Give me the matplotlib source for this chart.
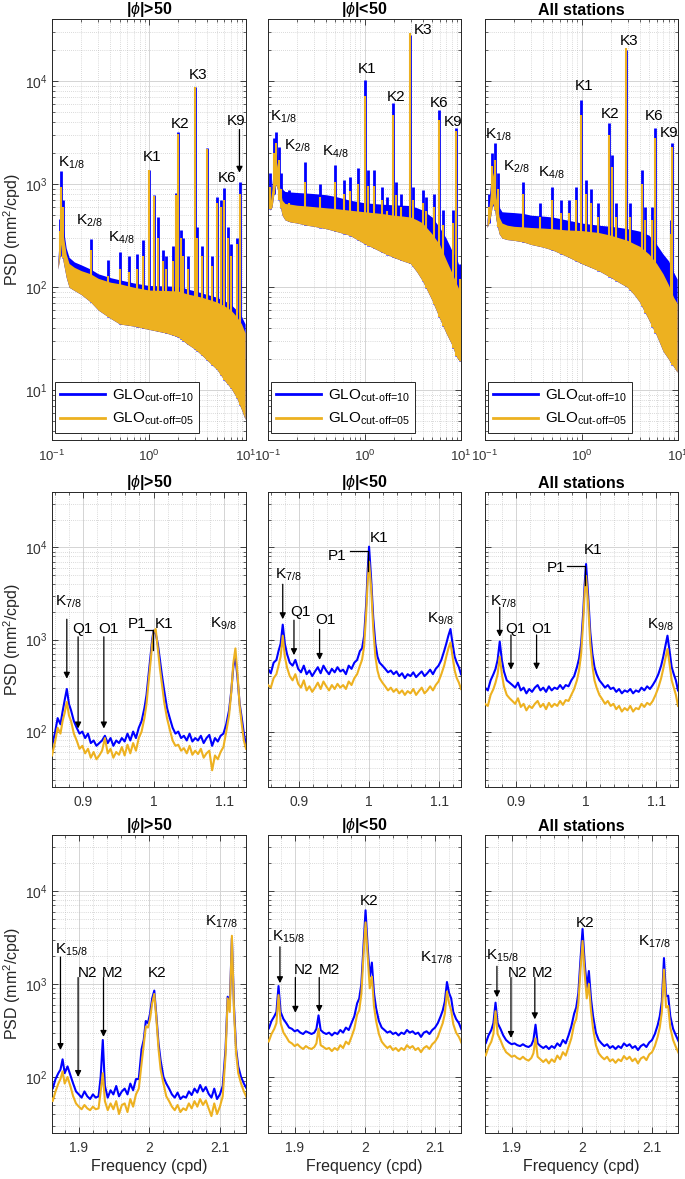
import numpy as np
import matplotlib.pyplot as plt
from matplotlib.ticker import LogLocator, NullFormatter, MultipleLocator, FixedLocator, FixedFormatter
from matplotlib.lines import Line2D

plt.rcParams['font.family'] = ['Liberation Sans', 'DejaVu Sans']
plt.rcParams['mathtext.fontset'] = 'custom'
plt.rcParams['mathtext.rm'] = 'Liberation Sans'
plt.rcParams['mathtext.it'] = 'Liberation Sans:italic'
plt.rcParams['mathtext.bf'] = 'Liberation Sans:bold'
plt.rcParams['mathtext.default'] = 'regular'

BLUE = '#0000ff'
ORANGE = '#edb120'
nan = np.nan

titles = [r'|$\mathit{\phi}$|>50', r'|$\mathit{\phi}$|<50', 'All stations']
labels = [r'GLO$_{\text{cut-off=10}}$', r'GLO$_{\text{cut-off=05}}$']

# ---------------- top row: full spectrum (band envelopes + tidal spikes)
top_f = [0.105, 0.11, 0.115, 0.12, 0.125, 0.13, 0.14, 0.15, 0.17, 0.2, 0.25, 0.3, 0.4, 0.5,
         0.7, 1.0, 1.5, 2.0, 2.5, 3.0, 3.5, 4.0, 5.0, 6.0, 7.0, 8.0, 9.0, 9.8]

tl_hi_o = [nan, nan, 170, 300, 520, 330, 210, 170, 156, 145, 135, 122, 112, 108,
           100, 94, 93, 92, 86, 83, 80, 77, 72, 66, 60, 52, 44, 36]
tl_lo_o = [nan, nan, 150, 190, 260, 180, 125, 100, 93, 85, 72, 60, 50, 44,
           42, 39, 36, 33, 28, 25, 22, 19.5, 16, 12.5, 10.5, 8.5, 6.5, 5.2]
tl_hi_b = [nan, nan, 185, 340, 600, 390, 240, 195, 176, 165, 150, 135, 124, 118,
           110, 104, 103, 102, 96, 92, 88, 85, 80, 74, 68, 60, 52, 44]

tc_hi_o = [640, 900, 1300, 1800, 1500, 1000, 700, 650, 640, 625, 615, 605, 590, 580,
           560, 540, 520, 500, 490, 480, 450, 420, 330, 260, 185, 140, 108, 90]
tc_lo_o = [560, 600, 800, 1000, 900, 700, 500, 450, 430, 420, 400, 390, 370, 350,
           320, 265, 220, 195, 180, 170, 140, 115, 75, 50, 36, 28, 21, 19]
tc_hi_b = [700, 1000, 1600, 2200, 1900, 1300, 900, 850, 840, 830, 820, 810, 790, 760,
           700, 660, 640, 630, 625, 620, 590, 560, 480, 380, 300, 230, 190, 150]

tr_hi_o = [420, 600, 900, 1300, 1100, 750, 480, 420, 400, 390, 385, 380, 375, 370,
           360, 355, 340, 320, 300, 285, 265, 250, 210, 170, 135, 105, 80, 70]
tr_lo_o = [380, 420, 500, 650, 600, 450, 330, 300, 290, 285, 275, 260, 245, 230,
           200, 170, 145, 125, 110, 100, 85, 72, 48, 34, 24, 20, 17, 15]
tr_hi_b = [450, 700, 1100, 1600, 1400, 900, 600, 540, 535, 530, 520, 500, 490, 480,
           450, 420, 400, 390, 380, 370, 360, 350, 320, 260, 210, 180, 140, 120]

tl_sf = [0.121, 0.125, 0.129, 0.25, 0.376, 0.5, 0.627, 0.75, 0.877, 1.003, 1.128, 1.25, 1.38, 1.5,
         1.75, 1.88, 2.005, 2.13, 2.26, 2.5, 3.0, 3.13, 3.5, 4.0, 4.5, 5.0, 5.5, 6.0, 6.5, 7.0, 8.0, 8.6]
tl_sb = [460, 1330, 700, 296, 182, 219, 200, 210, 290, 1380, 780, 480, 230, 200,
         250, 820, 3200, 360, 300, 200, 8800, 380, 250, 2250, 200, 750, 700, 910, 380, 260, 300, 1060]
tl_so = [350, 940, 600, 230, 130, 150, 140, 150, 200, 1370, 760, 300, 180, 150,
         180, 780, 3100, 300, 200, 150, 8700, 300, 200, 2200, 160, 650, 600, 700, 300, 200, 260, 800]

tc_sf = [0.106, 0.115, 0.121, 0.13, 0.135, 0.165, 0.243, 0.347, 0.49, 0.61, 0.71, 0.86, 1.0, 1.1, 1.24,
         1.52, 1.72, 1.97, 2.1, 2.37, 2.95, 3.15, 4.0, 4.35, 5.2, 5.9, 6.5, 8.3, 8.87, 9.7]
tc_sb = [1270, 2800, 3200, 2300, 1270, 870, 1650, 1000, 1530, 1100, 1180, 1450, 10300, 1370, 1370,
         940, 750, 6100, 1050, 810, 28000, 940, 870, 750, 800, 5250, 560, 560, 3500, 170]
tc_so = [940, 1990, 2500, 1700, 900, 650, 1050, 750, 1050, 800, 850, 1000, 7100, 950, 950,
         700, 550, 4700, 780, 600, 29500, 700, 650, 550, 600, 4200, 400, 420, 3300, 120]

tr_sf = [0.11, 0.119, 0.126, 0.135, 0.25, 0.37, 0.49, 0.61, 0.74, 0.87, 0.99, 1.11, 1.24, 1.5,
         1.95, 2.07, 2.3, 2.9, 3.2, 4.2, 4.6, 5.4, 5.8, 8.4, 8.7]
tr_sb = [810, 2000, 2490, 1270, 1050, 650, 940, 700, 700, 940, 6600, 1090, 900, 650,
         3900, 1900, 650, 20000, 650, 1370, 600, 600, 3500, 450, 2500]
tr_so = [600, 1500, 1700, 900, 810, 480, 700, 520, 520, 700, 4700, 800, 650, 480,
         3000, 1480, 480, 20700, 480, 1000, 450, 450, 2800, 330, 2300]

# ---------------- middle row: diurnal band
mid_f = [0.856, 0.860, 0.864, 0.868, 0.871, 0.874, 0.877, 0.880, 0.883, 0.887,
         0.891, 0.895, 0.899, 0.903, 0.907, 0.911, 0.915, 0.919, 0.923, 0.927, 0.931, 0.935,
         0.939, 0.943, 0.947, 0.951, 0.955, 0.959, 0.963, 0.967, 0.971, 0.975, 0.979, 0.983, 0.987,
         0.990, 0.993, 0.996, 0.998, 1.000, 1.003, 1.006, 1.009, 1.012, 1.015,
         1.019, 1.023, 1.027, 1.031, 1.035, 1.039, 1.043, 1.047, 1.051, 1.055, 1.059, 1.063,
         1.067, 1.071, 1.075, 1.079, 1.083, 1.087, 1.091, 1.095, 1.099, 1.103, 1.107,
         1.110, 1.113, 1.116, 1.119, 1.122, 1.125, 1.128, 1.131]

ml_b = [70, 95, 140, 120, 165, 220, 290, 200, 170, 130,
        110, 95, 100, 85, 95, 75, 80, 70, 75, 80, 90, 75,
        85, 70, 80, 75, 85, 78, 95, 80, 100, 85, 110, 130, 180,
        250, 420, 700, 1000, 1250, 1150, 900, 600, 400, 280,
        180, 140, 110, 95, 100, 85, 90, 80, 95, 78, 85, 80,
        90, 75, 85, 92, 70, 85, 78, 90, 95, 120, 170,
        270, 500, 650, 380, 200, 140, 95, 72]
ml_o = [55, 75, 110, 95, 130, 160, 210, 150, 130, 95,
        80, 65, 70, 58, 65, 52, 60, 50, 55, 62, 85, 58,
        65, 52, 60, 56, 68, 55, 72, 58, 75, 62, 85, 100, 140,
        200, 350, 600, 900, 1200, 1300, 800, 480, 320, 210,
        140, 105, 80, 70, 72, 62, 66, 58, 70, 56, 62, 57,
        65, 52, 58, 62, 38, 55, 50, 60, 68, 100, 150,
        260, 550, 800, 420, 190, 120, 80, 65]

mc_b = [480, 430, 560, 600, 750, 900, 1450, 900, 700, 560,
        520, 600, 480, 440, 520, 420, 460, 400, 450, 500, 430, 520,
        460, 420, 480, 440, 500, 450, 470, 420, 520, 480, 560, 600, 750,
        800, 1100, 2500, 5500, 10200, 4500, 1700, 900, 650, 560,
        520, 480, 440, 460, 420, 450, 400, 430, 380, 420, 400, 440,
        390, 420, 450, 400, 430, 470, 420, 480, 520, 600, 750,
        900, 1100, 1300, 900, 650, 560, 500, 420]
mc_o = [320, 300, 380, 420, 520, 650, 1100, 650, 500, 400,
        360, 420, 330, 300, 360, 280, 310, 270, 300, 340, 290, 350,
        310, 280, 320, 290, 330, 300, 320, 290, 350, 320, 380, 420, 520,
        600, 850, 2000, 4200, 7000, 3600, 1300, 650, 460, 380,
        340, 310, 280, 300, 270, 290, 260, 280, 250, 275, 260, 290,
        250, 275, 300, 260, 280, 310, 280, 320, 350, 420, 520,
        650, 800, 930, 650, 460, 380, 340, 290]

mr_b = [300, 280, 360, 420, 480, 600, 950, 600, 450, 360,
        340, 320, 300, 340, 280, 300, 260, 290, 270, 300, 320, 280,
        300, 270, 310, 280, 300, 290, 320, 290, 320, 310, 360, 400, 500,
        620, 900, 2000, 4000, 6600, 3000, 1200, 700, 500, 420,
        360, 330, 300, 320, 290, 300, 270, 290, 260, 280, 270, 290,
        260, 280, 270, 300, 280, 310, 290, 320, 360, 420, 520,
        650, 850, 1100, 750, 500, 420, 360, 280]
mr_o = [200, 190, 250, 290, 340, 420, 650, 420, 310, 250,
        230, 215, 200, 230, 185, 200, 170, 190, 180, 200, 215, 185,
        200, 175, 205, 185, 200, 190, 215, 195, 220, 215, 250, 290, 360,
        460, 700, 1600, 3200, 4900, 2400, 900, 520, 360, 300,
        250, 225, 200, 215, 190, 200, 175, 190, 165, 180, 170, 190,
        165, 180, 175, 200, 185, 205, 195, 215, 250, 300, 380,
        480, 620, 790, 540, 360, 300, 250, 190]

# ---------------- bottom row: semidiurnal band
bot_f = [1.855, 1.859, 1.863, 1.867, 1.871, 1.874, 1.877, 1.880,
         1.884, 1.888, 1.892, 1.896, 1.900, 1.904, 1.908, 1.912, 1.916, 1.920, 1.924, 1.928,
         1.931, 1.934, 1.937,
         1.941, 1.945, 1.949, 1.953, 1.957, 1.961, 1.965, 1.969, 1.973, 1.977, 1.981, 1.985, 1.989,
         1.992, 1.995, 1.998, 2.001, 2.004, 2.007, 2.010, 2.013, 2.016,
         2.020, 2.024, 2.028, 2.032, 2.036, 2.040, 2.044, 2.048, 2.052, 2.056, 2.060, 2.064,
         2.068, 2.072, 2.076, 2.080, 2.084, 2.088, 2.092, 2.096, 2.100, 2.104, 2.108,
         2.111, 2.114, 2.117, 2.120, 2.123, 2.126, 2.130, 2.134, 2.138, 2.142]

bl_b = [80, 85, 75, 95, 110, 120, 155, 110,
        130, 105, 85, 70, 65, 60, 70, 62, 58, 65, 60, 62,
        100, 250, 80,
        60, 72, 65, 80, 62, 70, 75, 65, 85, 72, 95, 95, 200,
        250, 400, 380, 480, 700, 850, 450, 230, 150,
        100, 85, 75, 65, 60, 68, 58, 62, 60, 70, 64, 75,
        68, 82, 70, 78, 66, 60, 75, 58, 65, 80, 200,
        730, 600, 3100, 570, 200, 130, 100, 85, 75, 70]
bl_o = [60, 65, 55, 70, 85, 95, 115, 85,
        100, 80, 62, 52, 48, 45, 50, 46, 44, 48, 45, 46,
        70, 110, 55,
        44, 52, 45, 55, 40, 50, 52, 42, 58, 48, 65, 75, 140,
        220, 350, 340, 420, 620, 780, 420, 200, 120,
        85, 62, 55, 48, 44, 50, 42, 46, 44, 52, 46, 55,
        48, 58, 50, 56, 46, 38, 52, 40, 48, 62, 170,
        700, 500, 3300, 500, 180, 110, 85, 70, 60, 55]

bc_b = [350, 360, 330, 400, 450, 500, 950, 500,
        420, 380, 340, 330, 310, 320, 300, 290, 310, 300, 290, 300,
        330, 460, 320,
        300, 290, 300, 280, 300, 290, 320, 300, 340, 320, 380, 450, 620,
        700, 1000, 2500, 6200, 2500, 1200, 1700, 800, 550,
        400, 340, 320, 300, 310, 290, 300, 280, 300, 290, 320, 300,
        310, 290, 300, 270, 300, 310, 290, 320, 340, 380, 450,
        520, 650, 1050, 800, 700, 500, 420, 380, 320, 300]
bc_o = [250, 260, 240, 290, 330, 380, 760, 380,
        300, 270, 240, 230, 215, 225, 210, 200, 215, 205, 200, 210,
        230, 330, 220,
        210, 200, 205, 190, 205, 195, 220, 205, 240, 225, 270, 330, 470,
        520, 780, 2000, 4600, 2000, 900, 1200, 580, 400,
        290, 240, 220, 205, 215, 195, 205, 190, 205, 195, 220, 205,
        215, 195, 205, 185, 205, 215, 200, 225, 240, 270, 330,
        380, 480, 830, 620, 520, 370, 300, 270, 230, 210]

br_b = [230, 250, 230, 280, 320, 380, 630, 380,
        330, 280, 250, 235, 225, 230, 220, 215, 225, 215, 210, 220,
        250, 365, 230,
        215, 205, 215, 200, 215, 205, 230, 215, 250, 230, 280, 350, 480,
        560, 800, 1800, 3900, 1700, 900, 1380, 700, 450,
        300, 250, 230, 215, 225, 205, 215, 200, 215, 205, 230, 215,
        225, 205, 215, 195, 215, 225, 210, 235, 250, 290, 360,
        450, 650, 1900, 740, 750, 450, 330, 280, 240, 220]
br_o = [170, 185, 170, 210, 240, 290, 510, 290,
        250, 210, 185, 175, 165, 170, 160, 155, 165, 155, 150, 160,
        180, 260, 165,
        155, 145, 155, 140, 155, 145, 170, 155, 185, 170, 210, 260, 370,
        420, 620, 1400, 2900, 1300, 700, 1000, 520, 330,
        220, 180, 165, 155, 165, 148, 155, 142, 155, 148, 168, 155,
        165, 148, 158, 140, 158, 165, 152, 175, 185, 215, 270,
        340, 500, 1430, 560, 580, 340, 250, 210, 180, 165]

top_env = [(tl_hi_o, tl_lo_o, tl_hi_b), (tc_hi_o, tc_lo_o, tc_hi_b), (tr_hi_o, tr_lo_o, tr_hi_b)]
top_spk = [(tl_sf, tl_sb, tl_so), (tc_sf, tc_sb, tc_so), (tr_sf, tr_sb, tr_so)]
mid_series = [(ml_b, ml_o), (mc_b, mc_o), (mr_b, mr_o)]
bot_series = [(bl_b, bl_o), (bc_b, bc_o), (br_b, br_o)]

# annotation placements (text, x, y)
top_txt = [
    [('K$_{1/8}$', 0.114, 1620), ('K$_{2/8}$', 0.176, 437), ('K$_{4/8}$', 0.377, 302), ('K1', 0.87, 1820),
     ('K2', 1.69, 3800), ('K3', 2.59, 11500), ('K6', 5.1, 1150), ('K9', 6.35, 4070)],
    [('K$_{1/8}$', 0.106, 4470), ('K$_{2/8}$', 0.146, 2340), ('K$_{4/8}$', 0.365, 2040), ('K1', 0.86, 13200),
     ('K2', 1.72, 7080), ('K3', 3.23, 31600), ('K6', 4.72, 6170), ('K9', 6.68, 3980)],
    [('K$_{1/8}$', 0.101, 3020), ('K$_{2/8}$', 0.152, 1480), ('K$_{4/8}$', 0.352, 1290), ('K1', 0.85, 8900),
     ('K2', 1.59, 4790), ('K3', 2.52, 24500), ('K6', 4.52, 4570), ('K9', 6.43, 3160)],
]
mid_txt = [
    [('K$_{7/8}$', 0.860, 2540), ('Q1', 0.884, 1290), ('O1', 0.921, 1290), ('P1', 0.9637, 1470),
     ('K1', 1.002, 1470), ('K$_{9/8}$', 1.080, 1470)],
    [('K$_{7/8}$', 0.866, 5000), ('Q1', 0.887, 2000), ('O1', 0.924, 1620), ('P1', 0.9415, 8100),
     ('K1', 1.001, 12600), ('K$_{9/8}$', 1.083, 1660)],
    [('K$_{7/8}$', 0.863, 2570), ('Q1', 0.885, 1290), ('O1', 0.922, 1290), ('P1', 0.944, 6000),
     ('K1', 0.996, 9300), ('K$_{9/8}$', 1.087, 1450)],
]
mid_arr = [
    [(0.877, 1660, 375), (0.893, 1070, 108), (0.9295, 1070, 108)],
    [(0.877, 3980, 1660), (0.893, 1620, 676), (0.9295, 1290, 600)],
    [(0.877, 2240, 1070), (0.893, 1120, 470), (0.9295, 1120, 470)],
]
mid_p1 = [(0.988, 1260, 770), (0.973, 9100, 5600), (0.973, 6300, 3900)]
bot_txt = [
    [('K$_{15/8}$', 1.866, 2340), ('N2', 1.898, 1320), ('M2', 1.932, 1320), ('K2', 1.998, 1320),
     ('K$_{17/8}$', 2.079, 4680)],
    [('K$_{15/8}$', 1.867, 3240), ('N2', 1.898, 1410), ('M2', 1.934, 1410), ('K2', 1.993, 7760),
     ('K$_{17/8}$', 2.079, 1900)],
    [('K$_{15/8}$', 1.864, 2000), ('N2', 1.895, 1320), ('M2', 1.9285, 1320), ('K2', 1.992, 4570),
     ('K$_{17/8}$', 2.080, 2820)],
]
bot_arr = [
    [(1.874, 1950, 195), (1.899, 1175, 100), (1.935, 1175, 270)],
    [(1.879, 2510, 1020), (1.901, 1175, 490), (1.935, 1175, 500)],
    [(1.879, 1550, 720), (1.899, 1175, 263), (1.933, 1175, 417)],
]

W, H = 685, 1179
col_px = [(52, 246), (268, 461), (485, 678)]
row_px = [(19, 440), (492, 787), (835, 1133)]

fig = plt.figure(figsize=(W / 100, H / 100), dpi=100)


def add_ax(r, c):
    l, rr = col_px[c]
    t, b = row_px[r]
    return fig.add_axes([l / W, 1 - b / H, (rr - l) / W, (b - t) / H])


def style(ax, c):
    ax.set_yscale('log')
    ax.set_axisbelow(True)
    ax.yaxis.set_major_locator(LogLocator(base=10, numticks=10))
    ax.yaxis.set_minor_locator(LogLocator(base=10, subs=np.arange(2, 10), numticks=20))
    ax.yaxis.set_minor_formatter(NullFormatter())
    ax.grid(True, which='major', color='#d4d4d4', lw=0.7, ls='-')
    ax.grid(True, which='minor', color='#b8b8b8', lw=0.5, ls=(0, (1, 2)))
    ax.tick_params(which='both', direction='in', top=True, right=True, colors='#262626',
                   labelcolor='#333333', labelsize=10)
    ax.tick_params(which='major', length=4, width=0.6)
    ax.tick_params(which='minor', length=2, width=0.5)
    for s in ax.spines.values():
        s.set_color('#262626')
        s.set_linewidth(0.7)
    if c > 0:
        ax.tick_params(labelleft=False)
    else:
        ax.set_ylabel('PSD (mm$^2$/cpd)', fontsize=11.5, color='#262626', labelpad=1)
    ax.set_title(titles[c], fontsize=11.5, fontweight='bold', pad=3)


def spikes(ax, f, lo, sf, sv, color, lw, z):
    f = np.array(f)
    lo = np.array(lo, dtype=float)
    ok = ~np.isnan(lo)
    base = 10 ** np.interp(np.log10(sf), np.log10(f[ok]), np.log10(lo[ok]))
    ax.vlines(sf, base, sv, color=color, lw=lw, zorder=z)


def arrow(ax, x, y0, y1):
    ax.annotate('', xy=(x, y1), xytext=(x, y0),
                arrowprops=dict(arrowstyle='-|>', color='black', lw=0.9, mutation_scale=9,
                                shrinkA=0, shrinkB=0))


# top row
for c in range(3):
    ax = add_ax(0, c)
    style(ax, c)
    ax.set_xscale('log')
    hi_o, lo_o, hi_b = top_env[c]
    sf, sb, so = top_spk[c]
    ax.fill_between(top_f, lo_o, hi_b, color=BLUE, lw=0, zorder=2)
    spikes(ax, top_f, lo_o, sf, sb, BLUE, 2.0, 2)
    ax.fill_between(top_f, lo_o, hi_o, color=ORANGE, lw=0, zorder=3)
    spikes(ax, top_f, lo_o, sf, so, ORANGE, 1.5, 3)
    ax.set_xlim(0.1, 10)
    ax.set_ylim(3.3, 4e4)
    ax.xaxis.set_major_locator(FixedLocator([0.1, 1, 10]))
    ax.xaxis.set_minor_locator(LogLocator(base=10, subs=np.arange(2, 10), numticks=20))
    ax.xaxis.set_minor_formatter(NullFormatter())
    ax.tick_params(axis='x', pad=6, labelsize=9.5)
    for t, x, y in top_txt[c]:
        ax.text(x, y, t, fontsize=11, ha='left', va='center', zorder=5)
    if c == 0:
        arrow(ax, 8.56, 3390, 1290)
    handles = [Line2D([], [], color=BLUE, lw=2), Line2D([], [], color=ORANGE, lw=2)]
    leg = ax.legend(handles, labels, loc='lower left', bbox_to_anchor=(0.015, 0.017),
                    borderaxespad=0, fontsize=11, handlelength=2.9, handletextpad=0.5,
                    labelspacing=0.45, borderpad=0.35, fancybox=False, framealpha=1,
                    edgecolor='#262626')
    leg.get_frame().set_linewidth(0.7)
    leg.set_zorder(6)

# middle row
for c in range(3):
    ax = add_ax(1, c)
    style(ax, c)
    b, o = mid_series[c]
    ax.plot(mid_f, b, color=BLUE, lw=1.5, zorder=2)
    ax.plot(mid_f, o, color=ORANGE, lw=1.5, zorder=3)
    ax.set_xlim(0.856, 1.131)
    ax.set_ylim(25, 4e4)
    ax.xaxis.set_major_locator(FixedLocator([0.9, 1.0, 1.1]))
    ax.xaxis.set_major_formatter(FixedFormatter(['0.9', '1', '1.1']))
    ax.xaxis.set_minor_locator(MultipleLocator(0.02))
    ax.tick_params(axis='x', pad=6)
    for t, x, y in mid_txt[c]:
        ax.text(x, y, t, fontsize=11, ha='left', va='center', zorder=5)
    for x, y0, y1 in mid_arr[c]:
        arrow(ax, x, y0, y1)
    x0, yl, yb = mid_p1[c]
    ax.plot([x0, 0.9985, 0.9985], [yl, yl, yb], color='black', lw=0.9, zorder=5)

# bottom row
for c in range(3):
    ax = add_ax(2, c)
    style(ax, c)
    b, o = bot_series[c]
    ax.plot(bot_f, b, color=BLUE, lw=1.5, zorder=2)
    ax.plot(bot_f, o, color=ORANGE, lw=1.5, zorder=3)
    ax.set_xlim(1.862, 2.137)
    ax.set_ylim(25, 4e4)
    ax.xaxis.set_major_locator(FixedLocator([1.9, 2.0, 2.1]))
    ax.xaxis.set_major_formatter(FixedFormatter(['1.9', '2', '2.1']))
    ax.xaxis.set_minor_locator(MultipleLocator(0.02))
    ax.tick_params(axis='x', pad=6)
    ax.set_xlabel('Frequency (cpd)', fontsize=11.5, color='#262626', labelpad=3)
    for t, x, y in bot_txt[c]:
        ax.text(x, y, t, fontsize=11, ha='left', va='center', zorder=5)
    for x, y0, y1 in bot_arr[c]:
        arrow(ax, x, y0, y1)

fig.savefig('out.png', dpi=100)
